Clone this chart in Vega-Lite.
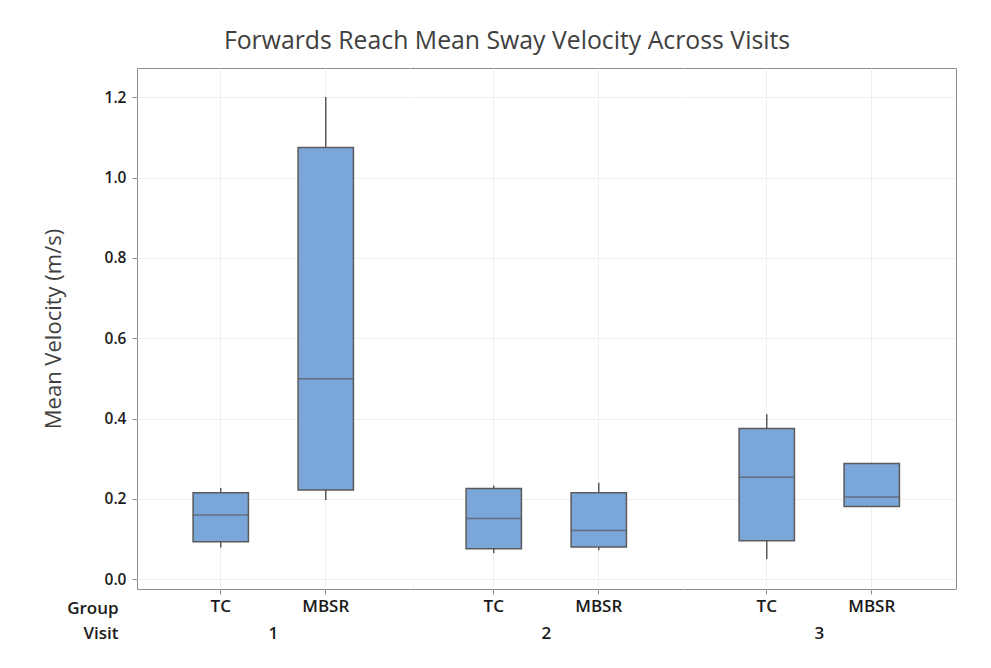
{
  "$schema": "https://vega.github.io/schema/vega-lite/v6.json",
  "background": "white",
  "padding": {"left": 42, "top": 29, "right": 5, "bottom": 5},
  "title": {
    "text": "Forwards Reach Mean Sway Velocity Across Visits",
    "font": "Open Sans",
    "fontSize": 24.8,
    "fontWeight": "normal",
    "color": "#404040",
    "anchor": "middle",
    "offset": 14,
    "dx": 8
  },
  "data": {
    "values": [
      {"Visit": "1", "Group": "TC", "min": 0.079, "q1": 0.093, "median": 0.160, "q3": 0.215, "max": 0.227},
      {"Visit": "1", "Group": "MBSR", "min": 0.197, "q1": 0.222, "median": 0.499, "q3": 1.075, "max": 1.201},
      {"Visit": "2", "Group": "TC", "min": 0.065, "q1": 0.076, "median": 0.151, "q3": 0.226, "max": 0.233},
      {"Visit": "2", "Group": "MBSR", "min": 0.072, "q1": 0.080, "median": 0.121, "q3": 0.215, "max": 0.240},
      {"Visit": "3", "Group": "TC", "min": 0.050, "q1": 0.096, "median": 0.254, "q3": 0.375, "max": 0.411},
      {"Visit": "3", "Group": "MBSR", "min": 0.181, "q1": 0.181, "median": 0.205, "q3": 0.288, "max": 0.288}
    ]
  },
  "spacing": 0,
  "facet": {
    "column": {
      "field": "Visit",
      "type": "ordinal",
      "title": ["", "Group", "Visit"],
      "header": {
        "labelOrient": "bottom",
        "labelPadding": 12,
        "titleOrient": "left",
        "titleAngle": 0,
        "titleAnchor": "start",
        "titleAlign": "right",
        "titleBaseline": "alphabetic",
        "titleLineHeight": 25,
        "titlePadding": -128,
        "labelFont": "Open Sans",
        "labelFontSize": 17,
        "labelFontWeight": 600,
        "labelColor": "#1a1a1a",
        "titleFont": "Open Sans",
        "titleFontSize": 17,
        "titleFontWeight": 600,
        "titleColor": "#1a1a1a"
      }
    }
  },
  "spec": {
    "width": 272.5,
    "height": 521,
    "layer": [
      {
        "mark": {"type": "rule", "color": "#5a5a5a", "strokeWidth": 1.5},
        "encoding": {
          "x": {
            "field": "Group",
            "type": "nominal",
            "sort": ["TC", "MBSR"],
            "scale": {"type": "band", "paddingInner": 0.473, "paddingOuter": 0.534},
            "axis": {
              "title": null,
              "orient": "bottom",
              "labelAngle": 0,
              "bandPosition": 0.5,
              "grid": true,
              "gridColor": "#efefef",
              "domainColor": "#8c8c8c",
              "tickColor": "#8c8c8c",
              "tickSize": 5,
              "labelPadding": 4,
              "labelFont": "Open Sans",
              "labelFontSize": 17,
              "labelFontWeight": 600,
              "labelColor": "#1a1a1a"
            }
          },
          "y": {
            "field": "min",
            "type": "quantitative",
            "scale": {"domain": [-0.0244, 1.273], "nice": false, "zero": false},
            "axis": {
              "title": "Mean Velocity (m/s)",
              "orient": "left",
              "values": [0, 0.2, 0.4, 0.6, 0.8, 1.0, 1.2],
              "format": ".1f",
              "grid": true,
              "gridColor": "#efefef",
              "domainColor": "#8c8c8c",
              "tickColor": "#8c8c8c",
              "tickSize": 5,
              "labelPadding": 6,
              "labelFont": "Open Sans",
              "labelFontSize": 15.5,
              "labelFontWeight": 600,
              "labelColor": "#1a1a1a",
              "titleFont": "Open Sans",
              "titleFontSize": 22,
              "titleFontWeight": "normal",
              "titleColor": "#404040",
              "titlePadding": 39
            }
          },
          "y2": {"field": "q1"}
        }
      },
      {
        "mark": {"type": "rule", "color": "#5a5a5a", "strokeWidth": 1.5},
        "encoding": {
          "x": {"field": "Group", "type": "nominal", "sort": ["TC", "MBSR"], "axis": null},
          "y": {"field": "q3", "type": "quantitative", "axis": null},
          "y2": {"field": "max"}
        }
      },
      {
        "mark": {"type": "bar", "fill": "#7ba6da", "stroke": "#5a5a5a", "strokeWidth": 1.5},
        "encoding": {
          "x": {"field": "Group", "type": "nominal", "sort": ["TC", "MBSR"], "axis": null},
          "y": {"field": "q1", "type": "quantitative", "axis": null},
          "y2": {"field": "q3"}
        }
      },
      {
        "mark": {"type": "tick", "color": "#5a5a5a", "thickness": 1.5, "size": 55},
        "encoding": {
          "x": {
            "field": "Group",
            "type": "nominal",
            "sort": ["TC", "MBSR"],
            "axis": {"orient": "top", "labels": false, "ticks": false, "grid": false, "title": null, "domainColor": "#8c8c8c"}
          },
          "y": {
            "field": "median",
            "type": "quantitative",
            "axis": {"orient": "right", "labels": false, "ticks": false, "grid": false, "title": null, "domainColor": "#8c8c8c"}
          }
        }
      }
    ],
    "resolve": {"axis": {"x": "independent", "y": "independent"}}
  },
  "config": {
    "view": {"stroke": null}
  }
}
